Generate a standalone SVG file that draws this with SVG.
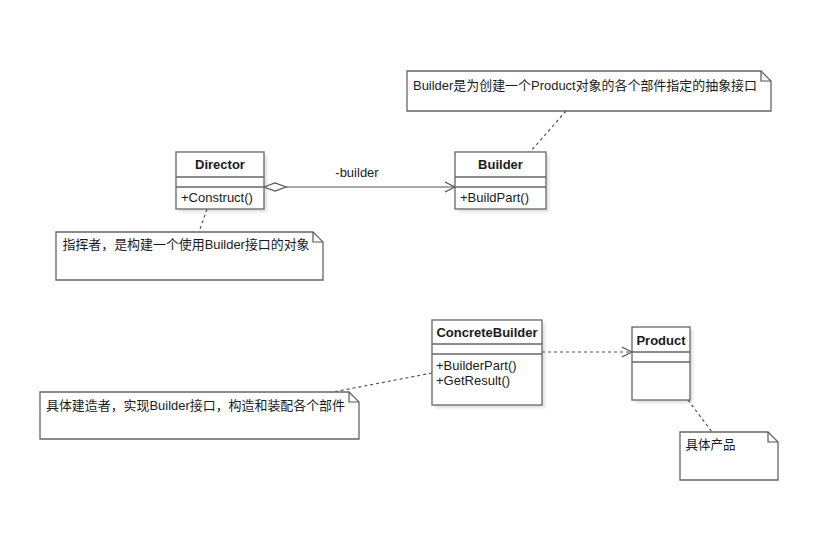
<svg xmlns="http://www.w3.org/2000/svg" width="829" height="552" viewBox="0 0 829 552">
<defs>
<pattern id="grid" width="16" height="16" patternUnits="userSpaceOnUse">
<path d="M16.5 0V16M0 16.5H16" fill="none" stroke="#ececec" stroke-width="1"/>
</pattern>
<filter id="sh" x="-10%" y="-10%" width="130%" height="130%">
<feGaussianBlur stdDeviation="1.5"/>
</filter>
<marker id="open" markerWidth="12" markerHeight="12" refX="10" refY="5" orient="auto" markerUnits="userSpaceOnUse" viewBox="0 0 12 10">
<path d="M0 0L10 5L0 10" fill="none" stroke="#555" stroke-width="1.2"/>
</marker>
</defs>
<style>
.box{fill:#fff;stroke:#666;stroke-width:1.3}
.shadow{fill:#000;opacity:0.12;filter:url(#sh)}
.sep{stroke:#666;stroke-width:1.3}
.t{font-family:"Liberation Sans","Noto Sans CJK SC",Arial,sans-serif;font-size:13px;fill:#1a1a1a}
.b{font-weight:bold;text-anchor:middle}
.conn{fill:none;stroke:#555;stroke-width:1.2}
.dash{stroke-dasharray:3,3}
</style>
<rect width="829" height="552" fill="#fff"/>
<rect width="829" height="552" fill="url(#grid)"/>

<g id="connectors">
<line class="conn" x1="286" y1="187" x2="455" y2="187" marker-end="url(#open)"/>
<polygon points="264,187 275,183 286,187 275,191" fill="#fff" stroke="#555" stroke-width="1.2"/>
<text class="t" x="357" y="177" text-anchor="middle">-builder</text>
<line class="conn dash" x1="542" y1="352" x2="632" y2="352" marker-end="url(#open)"/>
<line class="conn dash" x1="566" y1="111" x2="530" y2="152"/>
<line class="conn dash" x1="207" y1="209" x2="199" y2="232"/>
<line class="conn dash" x1="432" y1="373" x2="333" y2="392"/>
<line class="conn dash" x1="688" y1="400" x2="712" y2="432"/>
</g>

<g id="Director">
<rect class="shadow" x="179" y="155" width="88" height="57"/>
<rect class="box" x="176" y="152" width="88" height="57"/>
<line class="sep" x1="176" y1="177" x2="264" y2="177"/>
<line class="sep" x1="176" y1="187" x2="264" y2="187"/>
<text class="t b" x="220" y="169">Director</text>
<text class="t" x="181" y="202">+Construct()</text>
</g>

<g id="Builder">
<rect class="shadow" x="458" y="155" width="91" height="57"/>
<rect class="box" x="455" y="152" width="91" height="57"/>
<line class="sep" x1="455" y1="177" x2="546" y2="177"/>
<line class="sep" x1="455" y1="187" x2="546" y2="187"/>
<text class="t b" x="500.5" y="169">Builder</text>
<text class="t" x="460" y="202">+BuildPart()</text>
</g>

<g id="ConcreteBuilder">
<rect class="shadow" x="435" y="323" width="110" height="85"/>
<rect class="box" x="432" y="320" width="110" height="85"/>
<line class="sep" x1="432" y1="344" x2="542" y2="344"/>
<line class="sep" x1="432" y1="354" x2="542" y2="354"/>
<text class="t b" x="487" y="337">ConcreteBuilder</text>
<text class="t" x="436" y="370">+BuilderPart()</text>
<text class="t" x="436" y="385">+GetResult()</text>
</g>

<g id="Product">
<rect class="shadow" x="635" y="330" width="58" height="73"/>
<rect class="box" x="632" y="327" width="58" height="73"/>
<line class="sep" x1="632" y1="352" x2="690" y2="352"/>
<line class="sep" x1="632" y1="362" x2="690" y2="362"/>
<text class="t b" x="661" y="345">Product</text>
</g>

<g id="note-builder">
<path class="box" d="M407 71H761L771 81V111H407Z"/>
<path class="conn" d="M761 71V81H771"/>
<text class="t" x="413" y="90" textLength="344" lengthAdjust="spacingAndGlyphs">Builder是为创建一个Product对象的各个部件指定的抽象接口</text>
</g>

<g id="note-director">
<path class="box" d="M56 232H313L323 242V280H56Z"/>
<path class="conn" d="M313 232V242H323"/>
<text class="t" x="62.5" y="249" textLength="247" lengthAdjust="spacingAndGlyphs">指挥者，是构建一个使用Builder接口的对象</text>
</g>

<g id="note-concrete">
<path class="box" d="M40 392H349L359 402V439H40Z"/>
<path class="conn" d="M349 392V402H359"/>
<text class="t" x="46" y="410" textLength="299" lengthAdjust="spacingAndGlyphs">具体建造者，实现Builder接口，构造和装配各个部件</text>
</g>

<g id="note-product">
<path class="box" d="M680 432H768L778 442V480H680Z"/>
<path class="conn" d="M768 432V442H778"/>
<text class="t" x="685.5" y="449" textLength="50" lengthAdjust="spacingAndGlyphs">具体产品</text>
</g>
</svg>
